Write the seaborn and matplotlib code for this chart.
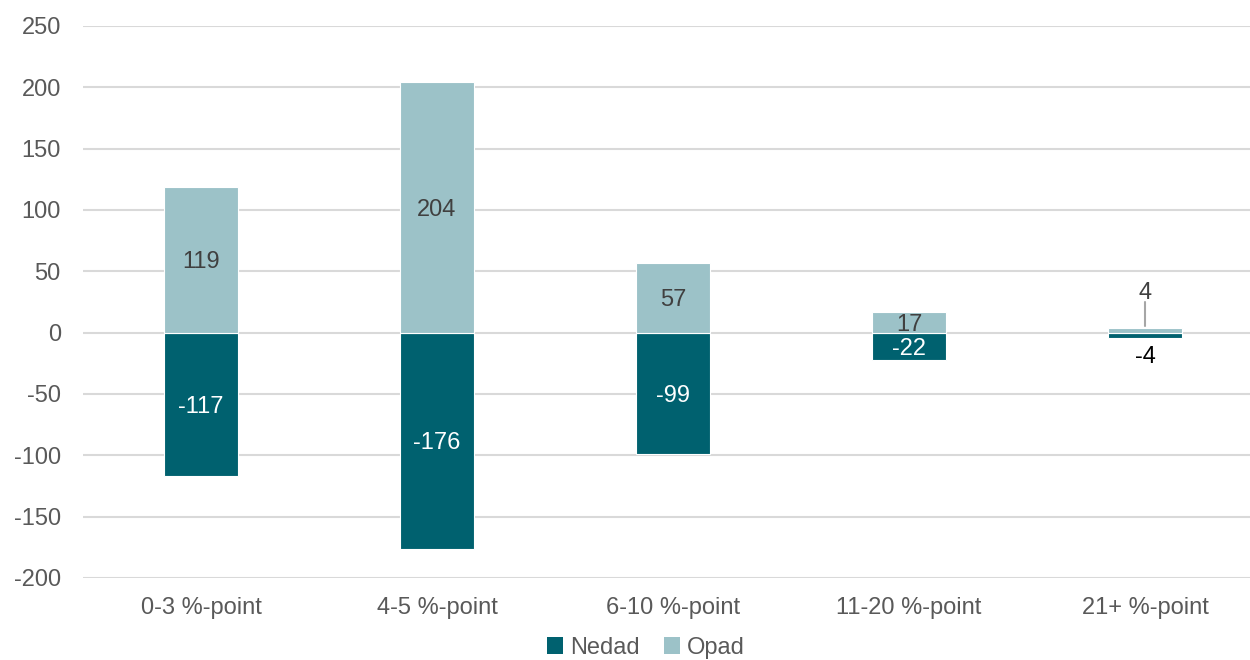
import matplotlib
matplotlib.use("Agg")
import matplotlib.pyplot as plt
import seaborn as sns
import pandas as pd
from matplotlib.patches import Patch

categories = ["0-3 %-point", "4-5 %-point", "6-10 %-point", "11-20 %-point", "21+ %-point"]
nedad = [-117, -176, -99, -22, -4]
opad = [119, 204, 57, 17, 4]
series_names = ["Nedad", "Opad"]
yticks = [-200, -150, -100, -50, 0, 50, 100, 150, 200, 250]

dark = "#00616F"
light = "#9CC2C8"

sns.set_theme(style="white")
plt.rcParams['font.family'] = ['Liberation Sans', 'DejaVu Sans']

df = pd.DataFrame({
    "cat": categories * 2,
    "series": [series_names[0]] * len(categories) + [series_names[1]] * len(categories),
    "val": nedad + opad,
})

fig = plt.figure(figsize=(12.5, 6.6), dpi=100)
ax = fig.add_axes([83 / 1250, 1 - 578 / 660, 1180 / 1250, (578 - 26) / 660])

sns.barplot(data=df, x="cat", y="val", hue="series", order=categories,
            hue_order=series_names, palette=[dark, light], dodge=False,
            width=0.31, ax=ax, edgecolor="white", linewidth=0.8, legend=True,
            saturation=1)
if ax.legend_ is not None:
    ax.legend_.remove()

ax.set_ylim(-200, 250)
ax.set_xlim(-0.5, len(categories) - 0.5)
ax.set_yticks(yticks)
ax.set_yticklabels([str(t) for t in yticks])
ax.yaxis.grid(True, color="#D9D9D9", linewidth=1.5)
ax.set_axisbelow(True)
for s in ax.spines.values():
    s.set_visible(False)
ax.set_xlabel("")
ax.set_ylabel("")
ax.tick_params(axis="y", length=0, pad=16, labelsize=17, labelcolor="#595959")
ax.tick_params(axis="x", length=0, pad=14, labelsize=17, labelcolor="#595959")

# data labels
for i, (n, o) in enumerate(zip(nedad, opad)):
    if abs(o) >= 10:
        ax.text(i, o / 2, str(o), ha="center", va="center_baseline", fontsize=17, color="#404040")
    else:
        ax.text(i, o + 30, str(o), ha="center", va="center_baseline", fontsize=17, color="#404040")
        ax.plot([i, i], [o + 1.5, o + 21], color="#A6A6A6", linewidth=1.5)
    if abs(n) >= 10:
        ax.text(i, n / 2, str(n), ha="center", va="center_baseline", fontsize=17, color="white")
    else:
        ax.text(i, n - 14, str(n), ha="center", va="center_baseline", fontsize=17, color="black")

handles = [Patch(facecolor=dark, edgecolor="none"), Patch(facecolor=light, edgecolor="none")]
fig.legend(handles, series_names, loc="center", bbox_to_anchor=(646 / 1250, 1 - 648 / 660),
           ncol=2, frameon=False, fontsize=17, labelcolor="#595959",
           handlelength=0.7, handleheight=0.7, handletextpad=0.3, columnspacing=1.0)

fig.savefig("out.png", dpi=100)
